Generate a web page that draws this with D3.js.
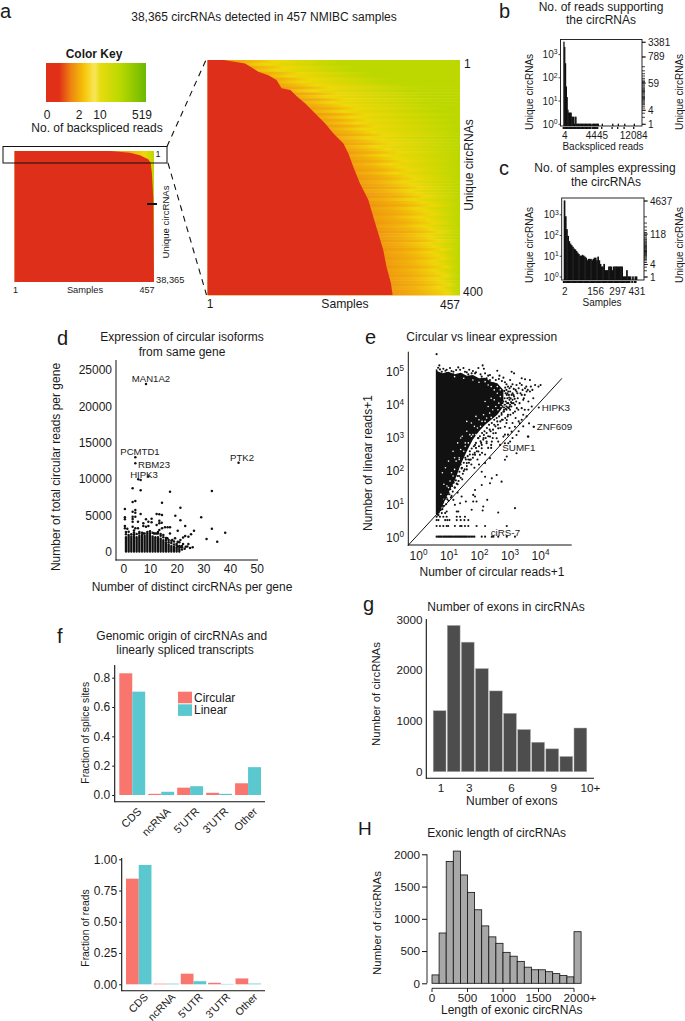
<!DOCTYPE html>
<html><head><meta charset="utf-8">
<script src="https://cdn.jsdelivr.net/npm/d3@7"></script>
<style>
html,body{margin:0;padding:0;background:#fff;}
svg{display:block;font-family:"Liberation Sans",Arial,sans-serif;fill:#1a1a1a;}
text{fill:#1a1a1a;}
</style></head><body>
<svg id="c" width="685" height="1021"></svg>
<script>
// ---- panel a ----
const keyLabels=["0","2","10","519"];
const keyStops=[[0,"#e03018"],[0.13,"#e03018"],[0.25,"#ee8410"],[0.38,"#f6c408"],[0.46,"#f8e040"],[0.49,"#f6e65a"],[0.54,"#e8dc10"],[0.75,"#b8d800"],[1,"#6cb800"]];
const smallRows=[0,488,1269,2440,3417,6345,14155,38365];
const smallEdge=[313,378,411,438,446,450,455,457];
const bigRows=[0,6,11,20,26,34,48,51,62,74,91,108,125,142,159,182,210,238,267,295,323,352,380,400];
const bigEdge=[29,68,77,92,110,125,134,150,162,177,195,213,228,246,255,264,276,291,300,309,318,324,332,335];
const heatYellow=[120,105,140,125,165,150,185,170,195,220,190,235,215,250,225,250,270,245,285,260,290,270,305,280,300,320,290,315,330,305,325,345,320,340,355,330,350,365,340,365,375,355,370,385,365,380,395,370,390,405,380,395,405,385,400,410,390,405,420,400,405,420,400,410,425,405,415,425,410,415,430,410,420,430,415,425,435,420,430,435];
const heatLime=[250,235,270,255,300,290,335,320,360,395,360,410,390,425,400,420,435,410,450,425,455,435,465,445,460,475,450,470,480,460,475,485,470,480,490,470,485,495,475,490,500,480,490,505,485,495,510,485,500,515,490,505,515,495,505,515,495,505,520,495,505,520,495,505,520,495,505,520,495,505,520,495,505,520,500,510,520,500,510,520];
// ---- panel b ----
const bCounts=[3381,2000,400,40,14,4,3,3,3,3,2,2,2,1,2,2,1,1,1,1,1,1,1,1,1,1,1,1,1,1,1,1,1,1,1,0,1,1,1,1,1,1,1,1,0,0,0,0,1,0,0,0,0,0,0,0,0,0,0,0,0,1,0,0,0,0,0,0,1,0,0,0,0,0,0,0,1,0,0,0,0,0,0,0,0,0,0,0,1];
const bRug=[1,2,3,4,5,6,7,8,9,10,11,12,13,14,15,16,18,20,22,24,26,28,30,33,36,40,45,50,59,64,70,80,95,120,150,200,300,789,3381];
const bTickBins=[2,42,88], bTickLabels=["4","4445","12084"];
const bRightTicks=[3381,789,59,4,1];
// ---- panel c ----
const cCounts=[4637,800,190,90,50,38,32,27,22,20,17,14,12,10,10,11,10,9,8,6,7,7,7,6,7,8,8,6,9,6,4,3,3,4,2,2,2,3,3,3,2,3,3,3,3,3,3,3,3,1,1,1,2,1,1,1,0,1,0,1,1];
const cRug=[1,2,3,4,5,6,7,8,9,10,11,12,13,14,15,16,17,18,19,20,22,24,26,28,30,33,36,40,44,48,53,60,66,75,85,100,118,140,180,260,400,800,4637];
const cTickBins=[1,26.6,45,61], cTickLabels=["2","156","297","431"];
const cRightTicks=[4637,118,4,1];
// ---- panel d ----
const dColumnX=[1,2,3,4,5,6,7,8,9,10,11,12,13,14,15,16,17,18,19,20,21];
const dColumnTop=[2000,2300,2100,2400,2000,2200,2300,2200,2500,2300,2100,2000,2000,1800,1600,1300,1000,800,700,600,500];
const dPoints=[[8.5,23090],[4.5,12990],[4.5,12160],[5.6,9960],[6.5,9870],[9.4,10330],[43.2,12250],[3.5,8720],[6.5,8450],[17.5,8260],[33.2,8350],[3.5,6840],[4.5,6980],[14.5,6750],[21.4,6060],[.6,5880],[3.5,5510],[4.5,5740],[4.5,5370],[6.5,5190],[12.5,5190],[13.5,5140],[14.5,5050],[19.5,4960],[29.2,4730],[3.5,4820],[.6,4730],[.6,4450],[3.5,4500],[4.5,4820],[8.5,4450],[10.6,4540],[13.5,4270],[21.4,4310],[3.5,4130],[5.5,4130],[7.5,3900],[9.4,4130],[10.6,4040],[14.4,3990],[23.2,3530],[33.2,3170],[12.5,3670],[13.5,3900],[.6,3530],[.6,3210],[1.5,3170],[3.5,3440],[4.5,3210],[5.5,3210],[7.5,3530],[8.5,3440],[9.4,3530],[13.5,2980],[14.5,3210],[15.6,3350],[16.6,3350],[17.5,3350],[20.4,2890],[26.5,2890],[38.2,2620],[25.4,2390],[23.2,2160],[24.4,2070],[22.4,1970],[31.2,1740],[35.2,1380],[21.4,1610],[19.4,1840],[18.4,1610],[20.4,1380],[22.4,1060],[24.4,1060],[23.4,690],[21.4,690],[20.4,690],[16.5,1840],[17.5,2520],[11.5,2520],[12.5,2520],[7.5,2520],
[1,2400],[1,2700],[2,2750],[3,2400],[4,2650],[4,2900],[5,2450],[6,2700],[6,2500],[7,2600],[8,2500],[9,2700],[10,2800],[10,2550],[11,2600],[12,2500],[13,2500],[13,2700],[14,2200],[14,2450],[15,2000],[15,2300],[16,1900],[17,1300],[17,1600],[18,1200],[19,1000],[19,1400],[20,900],[20,1100],[21,800],[21,1300],[22,600],[22,300],[23,400],[24,700],[25,500],[26,600],[22,800],[18,1500],[16,1600]];
const dXTicks=[0,10,20,30,40,50], dYTicks=[0,5000,10000,15000,20000,25000];
// ---- panel e (log10 units) ----
const eBandX=[.62,.8,1.0,1.2,1.4,1.6,1.8,2.0,2.2,2.4,2.6,2.8];
const eBandHigh=[5.02,4.95,5.0,4.92,4.97,4.88,4.9,4.8,4.82,4.7,4.65,4.45];
const eBandLow=[.62,.95,1.35,1.7,2.2,2.6,2.95,3.2,3.4,3.55,3.7,3.95];
const eFringe=[[.61,5.53],[.70,5.19],[.83,5.09],[.94,5.06],[1.05,5.11],[1.16,5.00],[1.32,5.13],[1.38,5.06],[1.49,5.11],[1.54,5.00],[1.68,5.06],[1.76,4.95],[1.87,4.95],[1.98,5.11],[2.12,5.19],[2.16,5.09],[2.20,4.95],[2.36,4.90],[2.60,5.03],[2.67,4.88],[2.80,4.82],[3.07,5.00],[3.15,4.95],[3.02,4.75],[3.40,4.80],[3.51,4.77],[3.67,4.75],[3.23,4.60],[3.34,4.65],[3.84,4.60],[3.95,4.55],[4.02,4.60],[3.51,4.50],[3.56,4.40],[3.67,4.40],[3.40,4.30],[3.45,4.15],[3.62,4.10],[3.78,4.20],[3.73,3.95],[3.62,3.85],[3.56,3.65],[3.64,3.44],[3.80,3.34],[3.62,3.04],[3.34,3.44],[3.18,3.34],[3.23,3.09],[3.02,2.89],[2.69,2.79],[2.91,3.54],[3.02,3.85],[3.13,4.05],[3.18,3.80],[3.29,3.85],[2.80,4.10],[2.91,4.30],[2.69,4.40],[2.47,4.65],[2.36,4.75],[2.09,4.85],[1.65,4.92],[1.43,4.92],[1.16,4.92],[.94,4.95],[.78,5.00],[3.02,4.40],[3.13,4.30],[3.23,4.40],[2.74,3.70],[2.85,3.34],[2.63,3.29],[2.47,3.14],[2.36,3.04],[2.25,2.89],[2.09,2.79],[2.58,2.99],[3.07,3.19],[2.80,3.04],[3.45,3.70],[3.40,3.90],[2.40,2.79],[2.16,3.09],[1.98,2.99],[1.87,2.79],[1.98,2.59]];
const eNamed=[[3.96,3.92],[3.79,3.34],[3.6,3.04]];
const eLower=[[2.25,2.84],[2.42,2.89],[2.63,2.89],[2.85,2.84],[2.96,2.84],[3.23,2.54],[2.91,2.44],[2.85,2.34],[2.36,2.39],[2.20,2.24],[1.87,2.49],[2.09,2.69],[2.03,2.49],[1.70,2.34],[1.60,2.24],[1.43,2.08],[2.09,1.98],[2.20,1.83],[2.42,1.78],[2.58,1.88],[2.74,1.68],[2.36,1.63],[2.09,1.58],[1.87,1.43],[1.81,1.28],[1.87,1.23],[1.81,1.08],[1.92,1.08],[2.27,1.13],[2.14,.93],[2.12,.81],[1.76,.83],[1.57,1.08],[1.38,1.03],[1.43,1.23],[1.16,1.13],[1.21,.98],[2.63,.75],[3.18,.88],[1.32,.78],[1.27,.78],[.94,.78],[.89,.73],[.78,.73],[.67,.67]];
const eDiagonal=[[.75,1.0],[.9,1.2],[1.0,1.35],[1.1,1.25],[1.2,1.5],[1.3,1.6],[1.35,1.85],[1.45,1.75],[1.5,2.0],[1.6,2.05],[1.65,2.35],[1.75,2.2],[1.8,2.5],[1.9,2.7],[1.95,2.35],[2.05,2.9],[2.1,2.55],[2.15,3.0],[2.25,3.15],[2.3,2.7],[2.35,3.25],[2.45,3.0],[2.5,3.4],[2.55,3.15],[2.6,3.5],[2.7,3.3],[2.75,3.55],[2.8,3.8],[2.9,3.45],[2.95,3.7],[1.05,1.6],[1.25,1.9],[1.4,2.2],[1.55,2.4],[1.7,2.6],[.85,1.45],[.95,1.65],[1.15,1.8],[1.0,1.1],[1.3,1.35],[.8,.95],[.7,.85],[1.85,2.1],[2.0,2.2],[2.2,2.5],[2.4,2.7]];
const eCloud=[[.68,.75],[.72,.9],[.74,.82],[.8,.85],[.82,1.05],[.85,.95],[.87,1.15],[.92,1.0],[.93,1.2],[.96,1.15],[.98,1.3],[.9,1.4],[1.03,1.3],[1.06,1.45],[1.08,1.2],[1.12,1.55],[1.14,1.38],[1.17,1.65],[1.21,1.5],[1.24,1.72],[1.27,1.62],[1.3,1.85],[1.33,1.7],[1.36,1.98],[1.4,1.8],[1.44,2.1],[1.47,1.92],[1.5,2.25],[1.53,2.05],[1.57,2.35],[1.6,2.15],[1.63,2.45],[1.67,2.25],[1.7,2.5],[1.73,2.35],[1.76,2.68],[1.8,2.4],[1.83,2.75],[1.86,2.55],[1.9,2.85],[1.93,2.6],[1.97,3.0],[2.0,2.75],[2.03,3.05],[2.07,2.85],[2.1,3.15],[2.14,2.95],[2.18,3.2],[2.22,3.0],[2.26,3.3],[2.3,3.05],[2.33,3.4],[2.38,3.2],[2.42,3.45],[2.46,3.25],[2.5,3.55],[2.54,3.35],[2.58,3.6],[2.62,3.4],[2.66,3.65],[2.7,3.5],[2.74,3.75],[2.78,3.55],[2.82,3.8],[2.86,3.6],[2.9,3.85],[2.94,3.65],[2.98,3.9],[3.03,3.7],[3.06,3.95],[3.1,4.15],[3.12,3.75],[3.15,4.25],[3.18,4.0],[3.2,4.45],[3.24,3.9],[3.27,4.2],[3.3,4.5],[3.33,4.05],[3.36,4.35],[3.4,4.6],[3.43,4.45],[3.47,4.2],[3.5,4.3],[3.55,4.55],[3.6,4.45],[3.7,4.55],[3.75,4.45],[3.05,4.55],[3.1,4.62],[3.0,4.5],[2.95,4.55],[2.9,4.62],[2.85,4.68],[2.75,4.72],[2.65,4.78],[2.55,4.75],[2.45,4.82],[2.3,4.88],[2.25,4.8],[2.05,4.92],[1.9,4.98],[1.8,5.02],[1.6,4.98],[1.25,5.05],[1.1,5.02],[.9,5.03],[.72,5.07],[.66,5.12],[3.1,3.45],[3.2,3.6],[3.3,3.5],[3.4,3.55],[3.5,3.85],[3.45,3.35],[3.3,3.2],[3.0,3.3],[2.85,3.1],[2.95,3.1],[3.1,3.0]];
const eCloudRight=[[2.82,3.92],[2.85,4.0],[2.88,4.1],[2.9,3.95],[2.93,4.2],[2.96,4.05],[2.98,4.3],[3.0,4.15],[3.02,4.0],[2.84,4.2],[2.87,4.35],[2.9,4.45],[2.93,4.35],[2.96,4.4],[3.0,3.95],[3.04,4.2],[3.07,4.3],[3.08,4.05],[2.83,4.42],[2.86,4.52],[2.92,4.05],[2.99,4.22],[3.05,4.08],[3.1,4.35],[3.14,4.48],[3.17,4.18],[3.22,4.1],[3.26,4.35],[2.82,3.85],[2.88,3.88],[2.94,3.92]];
const eGaps=[[.75,1.3],[.85,1.6],[.8,1.95],[.95,1.55],[.9,2.1],[1.05,1.7],[1.1,1.95],[1.0,2.3],[1.2,2.05],[1.25,2.3],[1.15,2.6],[1.35,2.4],[1.4,2.65],[1.3,2.85],[1.5,2.6],[1.55,2.85],[1.45,3.05],[1.65,2.85],[1.7,3.1],[1.6,3.2],[1.8,3.1],[1.85,3.35],[1.75,3.45],[1.95,3.3],[2.0,3.55],[1.9,3.65],[2.1,3.5],[2.15,3.7],[2.25,3.6],[2.35,3.75],[2.3,3.95],[2.45,3.85],[2.55,3.95],[2.5,4.15],[2.65,4.05],[2.7,4.25],[2.8,4.1],[2.85,4.3],[2.6,4.35],
[2.6,4.55],[2.7,4.45],[2.75,4.6],[2.4,4.55],[2.5,4.45],[2.2,4.7],[2.3,4.6],[2.0,4.68],[1.8,4.75],[1.5,4.8],[1.2,4.85],[2.78,4.0],[2.72,3.95],[2.62,3.85],[2.4,3.62],[2.2,3.5],[2.05,3.35],[1.9,3.1],[1.75,3.05],[1.55,2.75],[1.35,2.35],[1.15,1.85],[1.0,1.5],[.85,1.15],[1.2,2.4],[1.4,3.0],[1.6,3.5],[2.2,4.1],[2.4,4.2]];
const eRow62=[.61,.72,.83,.94,1.27,1.38,1.54];
const eRow52=[.61,.67,.89,.96,1.03,1.27,1.40,1.52,1.65];
const eRow34=[.61,.72,.83,.94,.99,1.21,1.38,1.43,1.54,1.65,1.92,2.20,2.91];
const eRow00=[.61,.66,.70,.74,.78,.83,.87,.91,.95,.99,1.03,1.07,1.11,1.15,1.2,1.24,1.28,1.32,1.36,1.4,1.44,1.48,1.52,1.56,1.6,1.65,1.7,1.75,1.8,1.85,2.09,2.20,2.42,2.47,2.63,2.91,3.18];
const eLineX=[-.33,4.72], eLineY=[-.25,4.8];
const eXTicks=[0,1,2,3,4], eYTicks=[0,1,2,3,4,5];
// ---- panel f ----
const fCats=["CDS","ncRNA","5'UTR","3'UTR","Other"];
const fSitesCircular=[.83,.008,.05,.015,.08];
const fSitesLinear=[.705,.022,.06,.008,.19];
const fReadsCircular=[.845,.005,.085,.012,.047];
const fReadsLinear=[.955,.005,.025,.003,.006];
const fSeries=["Circular","Linear"];
const fSitesTicks=[0,.2,.4,.6,.8], fReadsTicks=[0,.25,.5,.75,1];
// ---- panel g ----
const gCats=["1","2","3","4","5","6","7","8","9","10","10+"];
const gCounts=[1200,2880,2550,2030,1590,1150,830,580,450,300,860];
const gShown=["1","3","6","9","10+"], gYTicks=[0,1000,2000,3000];
// ---- panel H ----
const hStarts=[0,100,200,300,400,500,600,700,800,900,1000,1100,1200,1300,1400,1500,1600,1700,1800,1900,2000];
const hCounts=[130,780,1890,2050,1680,1410,1140,890,720,620,480,420,340,250,210,210,180,150,120,100,800];
const hXTicks=[0,500,1000,1500,2000], hYTicks=[0,500,1000,1500,2000];

const RED="#de2f1a", CIRC="#f8766d", LIN="#5bc8cf", K="#111";
const svg=d3.select("#c"), defs=svg.append("defs");

function txt(s,x,y,size,opt={}){
  const t=svg.append("text").attr("x",x).attr("y",y).attr("font-size",size)
    .attr("text-anchor",opt.anchor||"middle").text(s);
  if(opt.weight)t.attr("font-weight",opt.weight);
  if(opt.rotate!=null)t.attr("transform",`rotate(${opt.rotate} ${x} ${y})`);
  return t;
}
function line(x1,y1,x2,y2,w=1,dash){
  const l=svg.append("line").attr("x1",x1).attr("y1",y1).attr("x2",x2).attr("y2",y2).attr("stroke",K).attr("stroke-width",w);
  if(dash)l.attr("stroke-dasharray",dash);return l;
}
function yAxis(scale,vals,x,size,fmt,tick=2){
  const g=svg.append("g").attr("transform",`translate(${x},0)`)
    .call(d3.axisLeft(scale).tickValues(vals).tickSize(tick).tickPadding(2).tickFormat(fmt||(d=>d)));
  g.select(".domain").remove();
  g.selectAll("text").attr("font-size",size).attr("font-family",null);
  g.selectAll("line").attr("stroke",K);
  return g;
}
function xAxis(scale,vals,y,size,fmt,tick=2){
  const g=svg.append("g").attr("transform",`translate(0,${y})`)
    .call(d3.axisBottom(scale).tickValues(vals).tickSize(tick).tickPadding(4).tickFormat(fmt||(d=>d)));
  g.select(".domain").remove();
  g.selectAll("text").attr("font-size",size).attr("font-family",null);
  g.selectAll("line").attr("stroke",K);
  return g;
}
function sup(sel,size){
  sel.selectAll("text").each(function(d){
    const t=d3.select(this);t.text("10");
    t.append("tspan").attr("font-size",size*0.68).attr("dy",-size*0.38).text(d);
  });
}
function heatGrad(id,xs,x0,x1,yellow,lime){
  const gr=defs.append("linearGradient").attr("id",id).attr("gradientUnits","userSpaceOnUse")
    .attr("x1",xs(x0)).attr("x2",xs(x1)).attr("y1",0).attr("y2",0);
  const span=x1-x0;
  [[Math.max(0,yellow-120),"#ee9010"],[Math.max(0,yellow-50),"#f2b00c"],[yellow,"#efd708"],[lime,"#bcd800"]].forEach(([v,c])=>
    gr.append("stop").attr("offset",v/span).attr("stop-color",c));
}

// ---- a ----
txt("38,365 circRNAs detected in 457 NMIBC samples",264,21,12);
txt("a",0,18,20,{anchor:"start"});
txt("Color Key",94,58,12,{weight:"bold"});
const kg=defs.append("linearGradient").attr("id","key");
keyStops.forEach(([o,c])=>kg.append("stop").attr("offset",o).attr("stop-color",c));
svg.append("rect").attr("x",46).attr("y",63).attr("width",100).attr("height",39).attr("fill","url(#key)");
[47,79,100,142].forEach((x,i)=>txt(keyLabels[i],x,119,12));
txt("No. of backspliced reads",97,131.5,12);

// big heat map
const bigX=d3.scaleLinear().domain([0,457]).range([207.5,460]);
const bigY=d3.scaleLinear().domain([0,400]).range([60,295]);
heatYellow.forEach((yl,i)=>{
  heatGrad("h"+i,bigX,0,457,yl,heatLime[i]);
  svg.append("rect").attr("x",bigX(0)).attr("width",bigX(457)-bigX(0))
    .attr("y",bigY(i*5)).attr("height",bigY(5)-bigY(0)+.5).attr("fill",`url(#h${i})`);
});
svg.append("path").attr("fill",RED).attr("d",d3.area().x0(bigX(0)).x1((d,i)=>bigX(bigEdge[i])).y((d)=>bigY(d))(bigRows));
txt("1",464,68,12,{anchor:"start"});
txt("400",463,296,12,{anchor:"start"});
txt("Unique circRNAs",473,165,12,{rotate:-90});
txt("1",210,308,12);txt("Samples",345,308,12.2);txt("457",450,309,12);

// small heat map
const smX=d3.scaleLinear().domain([0,457]).range([14.5,154]);
const smY=d3.scaleLinear().domain([0,38365]).range([151,282]);
heatGrad("sm",smX,0,457,425,500);
svg.append("rect").attr("x",smX(0)).attr("y",smY(0)).attr("width",smX(457)-smX(0)).attr("height",smY(38365)-smY(0)).attr("fill","url(#sm)");
svg.append("path").attr("fill",RED).attr("d",d3.area().x0(smX(0)).x1((d,i)=>smX(smallEdge[i])).y(d=>smY(d))(smallRows));
svg.append("rect").attr("x",3).attr("y",146.5).attr("width",164).attr("height",16.5).attr("fill","none").attr("stroke",K).attr("stroke-width",1);
line(147,204,157,204,2);
line(167,146.5,206,60,1.1,"6 5");
line(168,163,206.5,295,1.1,"6 5");
txt("1",158,157,9,{anchor:"middle"});
txt("38,365",156,282.5,9.3,{anchor:"start"});
txt("Unique circRNAs",168.5,222,9.6,{rotate:-90});
txt("1",15.5,292.5,9);txt("Samples",85,292.5,9.3);txt("457",147,293,9);

// ---- histograms b, c ----
function logHist(o){
  const x=d3.scaleLinear().domain([0,1]).range([o.x0,o.x0+o.bw]);
  const y=d3.scaleLog().domain([1,o.top]).range([o.y1,o.y3]);
  svg.selectAll(null).data(o.counts.map((c,i)=>[i,c]).filter(d=>d[1]>0)).enter().append("rect")
    .attr("x",d=>x(d[0])).attr("width",o.bw+.5)
    .attr("y",d=>y(d[1])-.6).attr("height",d=>o.boxB-y(d[1])+.6).attr("fill",K);
  svg.append("rect").attr("x",o.boxL).attr("y",o.boxT).attr("width",o.boxR-o.boxL).attr("height",o.boxB-o.boxT)
    .attr("fill","none").attr("stroke",K).attr("stroke-width",.9);
  svg.selectAll(null).data(o.counts.map((c,i)=>[i,c]).filter(d=>d[1]>0)).enter().append("line")
    .attr("x1",d=>x(d[0])).attr("x2",d=>x(d[0])).attr("y1",o.boxB+1).attr("y2",o.boxB+3).attr("stroke",K).attr("stroke-width",o.bw+.5);
  svg.selectAll(null).data(o.rug).enter().append("line")
    .attr("x1",o.boxR).attr("x2",o.boxR+3).attr("y1",d=>y(d)).attr("y2",d=>y(d)).attr("stroke",K).attr("stroke-width",.8);
  o.rightTicks.forEach(v=>{line(o.boxR,y(v),o.boxR+4,y(v),.8);txt(v,o.boxR+6,y(v)+3.5,o.fs,{anchor:"start"});});
  o.tickBins.forEach((b,i)=>txt(o.tickLabels[i],x(b),o.tickY,o.fs));
  [0,1,2,3].forEach(p=>{
    const v=10**p;line(o.boxL-2,y(v),o.boxL,y(v),.8);
    const t=txt("10",o.boxL-3,y(v)+3.5,o.fs,{anchor:"end"});
    t.append("tspan").attr("font-size",o.fs*.68).attr("dy",-o.fs*.38).text(p);
  });
}
txt("b",499,18,20,{anchor:"start"});
txt("No. of reads supporting",601,10.5,12);txt("the circRNAs",601,24,12);
logHist({counts:bCounts,rug:bRug,rightTicks:bRightTicks,tickBins:bTickBins,tickLabels:bTickLabels,
  x0:563.3,bw:.8,y1:124.3,y3:42.3,top:3381,boxL:560.5,boxR:642,boxT:39.5,boxB:126,tickY:139,fs:10});
txt("Unique circRNAs",533,92,10,{rotate:-90});
txt("Unique circRNAs",683,92,10,{rotate:-90});
txt("Backspliced reads",603,150,10);

txt("c",499,175,20,{anchor:"start"});
txt("No. of samples expressing",605,172,12);txt("the circRNAs",606,186,12);
logHist({counts:cCounts,rug:cRug,rightTicks:cRightTicks,tickBins:cTickBins,tickLabels:cTickLabels,
  x0:563.7,bw:1.2,y1:277,y3:201,top:4637,boxL:561.7,boxR:644,boxT:198,boxB:280,tickY:294.5,fs:10});
txt("Unique circRNAs",533,245,10,{rotate:-90});
txt("Unique circRNAs",683,245,10,{rotate:-90});
txt("Samples",602,306,10);

// ---- d ----
txt("d",57,345,20,{anchor:"start"});
txt("Expression of circular isoforms",182,341,12);txt("from same gene",182,356,12);
const dX=d3.scaleLinear().domain([0,50]).range([123.3,256.7]);
const dY=d3.scaleLinear().domain([0,25000]).range([551.7,370]);
svg.selectAll(null).data(dColumnX).enter().append("line")
  .attr("x1",d=>dX(d)).attr("x2",d=>dX(d)).attr("y1",dY(0)).attr("y2",(d,i)=>dY(dColumnTop[i]))
  .attr("stroke",K).attr("stroke-width",2.3).attr("stroke-linecap","round");
svg.selectAll(null).data(dPoints).enter().append("circle")
  .attr("cx",d=>dX(d[0])).attr("cy",d=>dY(d[1])).attr("r",1.25).attr("fill",K);
line(116,360,116,560.5,1);line(115.5,560,258,560,1);
yAxis(dY,dYTicks,114,12,d=>d,0);
xAxis(dX,dXTicks,560,12,d=>d,0).selectAll("text").attr("dy","0.78em");
txt("Number of total circular reads per gene",59.5,467,12,{rotate:-90});
txt("Number of distinct circRNAs per gene",192,591,12);
txt("MAN1A2",151,382,9.6);txt("PCMTD1",140,455,9.6);txt("RBM23",138,467.5,9.6,{anchor:"start"});
txt("HIPK3",144,477.5,9.6);txt("PTK2",242,460.5,9.6);

// ---- e ----
txt("e",365,344,20,{anchor:"start"});
txt("Circular vs linear expression",481.7,340.5,12);
const eX=d3.scaleLinear().domain([0,4]).range([418,540]);
const eY=d3.scaleLinear().domain([0,5]).range([537.3,371.7]);
const ptsE=[].concat(eFringe,eNamed,eLower,eDiagonal,eCloud,eCloudRight,
  eRow62.map(x=>[x,.62]),eRow52.map(x=>[x,.52]),eRow34.map(x=>[x,.34]),eRow00.map(x=>[x,.02]));
svg.append("path").attr("fill",K).attr("d",
  d3.area().x((d,i)=>eX(eBandX[i])).y0((d,i)=>eY(eBandLow[i])).y1((d,i)=>eY(eBandHigh[i]))(eBandX));
svg.append("line").attr("x1",eX(.61)).attr("x2",eX(.61)).attr("y1",eY(.7)).attr("y2",eY(5.07)).attr("stroke",K).attr("stroke-width",1.6);
svg.selectAll(null).data(eGaps).enter().append("circle")
  .attr("cx",d=>eX(d[0])).attr("cy",d=>eY(d[1])).attr("r",.8).attr("fill","#fff");
svg.selectAll(null).data(ptsE).enter().append("circle")
  .attr("cx",d=>eX(d[0])).attr("cy",d=>eY(d[1])).attr("r",1.05).attr("fill",K);
svg.append("line").attr("x1",eX(eLineX[0])).attr("y1",eY(eLineY[0])).attr("x2",eX(eLineX[1])).attr("y2",eY(eLineY[1])).attr("stroke",K).attr("stroke-width",1);
line(408.3,351.7,408.3,545.5,1);line(408,545,571.7,545,1);
sup(yAxis(eY,eYTicks,406,12,d=>d,0),12);
sup(xAxis(eX,eXTicks,547,12,d=>d,0),12);
txt("Number of linear reads+1",371.7,463,12,{rotate:-90});
txt("Number of circular reads+1",492,576,12);
txt("HIPK3",541.7,411,9.8,{anchor:"start"});txt("ZNF609",536.7,430,9.8,{anchor:"start"});
txt("SUMF1",502.3,451,9.8,{anchor:"start"});txt("ciRS-7",490.7,536,9.8,{anchor:"start"});

// ---- f ----
txt("f",57,643,20,{anchor:"start"});
txt("Genomic origin of circRNAs and",181.7,640,12);txt("linearly spliced transcripts",185,654,12);
function groupBars(o){
  const x=d3.scaleBand().domain(fCats).range([o.x0,o.x1]).paddingInner(o.pad).paddingOuter(o.padO);
  const sub=d3.scaleBand().domain(fSeries).range([0,x.bandwidth()]);
  const y=d3.scaleLinear().domain(o.domain).range(o.range);
  [[fSeries[0],o.a,CIRC],[fSeries[1],o.b,LIN]].forEach(([s,vals,col])=>{
    svg.selectAll(null).data(fCats).enter().append("rect")
      .attr("x",d=>x(d)+sub(s)).attr("width",sub.bandwidth())
      .attr("y",(d,i)=>y(vals[i])).attr("height",(d,i)=>y(0)-y(vals[i])).attr("fill",col);
  });
  line(o.axX,o.axT,o.axX,o.axB+.5,1.1);line(o.axX,o.axB,o.axR,o.axB,1.1);
  yAxis(y,o.ticks,o.axX-.5,12,o.fmt,2);
  fCats.forEach(c=>{
    const cx=x(c)+x.bandwidth()/2;
    txt(c,cx+10,o.axB+o.labelDrop,o.labelSize,{anchor:"end",rotate:-45});
  });
}
groupBars({x0:119.3,x1:261,pad:.105,padO:0,domain:[0,.8],range:[795,677.7],a:fSitesCircular,b:fSitesLinear,
  axX:114.7,axT:665,axB:801.7,axR:265,ticks:fSitesTicks,fmt:d3.format(".1f"),labelDrop:10.5,labelSize:11});
groupBars({x0:126,x1:261,pad:.07,padO:0,domain:[0,1],range:[984.3,859.3],a:fReadsCircular,b:fReadsLinear,
  axX:121.7,axT:858,axB:990.7,axR:265,ticks:fReadsTicks,fmt:d3.format(".2f"),labelDrop:7,labelSize:10.6});
txt("Fraction of splice sites",89,732.7,10.3,{rotate:-90});
txt("Fraction of reads",89,928,10.3,{rotate:-90});
svg.selectAll(null).data(fSeries).enter().append("rect").attr("x",178).attr("width",14)
  .attr("y",(d,i)=>691.7+i*12.6).attr("height",11.6).attr("fill",(d,i)=>i?LIN:CIRC);
fSeries.forEach((s,i)=>txt(s,194,701.7+i*12.6,12,{anchor:"start"}));

// ---- g ----
txt("g",363,611,20,{anchor:"start"});
txt("Number of exons in circRNAs",506,611,12);
const gX=d3.scaleBand().domain(gCats).range([433.2,586.8]).paddingInner(.09);
const gY=d3.scaleLinear().domain([0,3000]).range([771.7,619.3]);
svg.selectAll(null).data(gCats).enter().append("rect")
  .attr("x",d=>gX(d)).attr("width",gX.bandwidth()).attr("y",(d,i)=>gY(gCounts[i]))
  .attr("height",(d,i)=>gY(0)-gY(gCounts[i])).attr("fill","#4d4d4d").attr("stroke","#b0b0b0").attr("stroke-width",.5);
line(426.3,619,426.3,778.8,1.1);line(426,778.3,594,778.3,1.1);
yAxis(gY,gYTicks,424.5,11.7,d=>d,0);
gShown.forEach(c=>txt(c,gX(c)+gX.bandwidth()/2+(c==="10+"?10:1.5),792,11.7));
txt("Number of circRNAs",380,694,11.4,{rotate:-90});
txt("Number of exons",511.7,805,12);

// ---- H ----
txt("H",358,835,19,{anchor:"start"});
txt("Exonic length of circRNAs",496.7,837,12);
const hX=d3.scaleLinear().domain([0,2000]).range([432,574]);
const hY=d3.scaleLinear().domain([0,2000]).range([983.3,854.3]);
svg.selectAll(null).data(hStarts).enter().append("rect")
  .attr("x",d=>hX(d)).attr("width",hX(100)-hX(0)).attr("y",(d,i)=>hY(hCounts[i]))
  .attr("height",(d,i)=>hY(0)-hY(hCounts[i])).attr("fill","#a8a8a8").attr("stroke",K).attr("stroke-width",.8);
line(427,854.3,427,983.3,.9);
yAxis(hY,hYTicks,427,11.7,d=>d,5);
line(432,988.3,574,988.3,.9);
hXTicks.forEach((t,i)=>{line(hX(t),988.3,hX(t),992,.9);
  txt(i===4?"2000+":t,hX(t)+(i===4?6:0),1002,11.7);});
txt("Number of circRNAs",380.7,923,11.4,{rotate:-90});
txt("Length of exonic circRNAs",511.7,1014,12);
</script></body></html>
